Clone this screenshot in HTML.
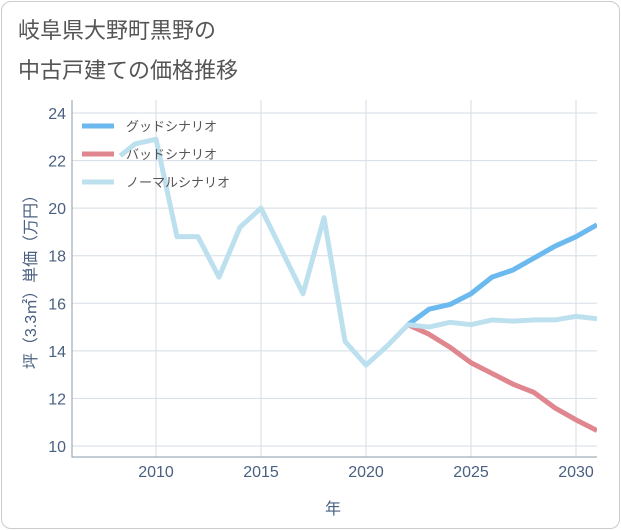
<!DOCTYPE html>
<html><head><meta charset="utf-8">
<style>
body{margin:0;background:#fff;}
#card{position:absolute;left:1px;top:1px;width:617px;height:526px;border:1px solid #ccc;border-radius:10px;background:#fff;}
.t{font-family:"Liberation Sans","Noto Sans CJK JP",sans-serif;}
</style></head>
<body>
<div id="card"></div>
<svg id="chart" width="621" height="530" style="position:absolute;left:0;top:0">
<text class="t" x="18" y="38" font-size="22" fill="#555">岐阜県大野町黒野の</text>
<text class="t" x="18" y="78" font-size="22" fill="#555">中古戸建ての価格推移</text>
<g id="grid"></g><g id="series"></g><g id="legend"></g>
<text class="t" x="333" y="514" font-size="16" fill="#4a6080" text-anchor="middle">年</text>
<text class="t" transform="translate(36,278) rotate(-90)" font-size="16" fill="#4a6080" text-anchor="middle">坪（3.3㎡）単価（万円）</text>
</svg>
<script>
const xTicks=[2010,2015,2020,2025,2030];
const yTicks=[10,12,14,16,18,20,22,24];
const normalYears=[2008.3,2009,2010,2011,2012,2013,2014,2015,2016,2017,2018,2019,2020,2021,2022,2023,2024,2025,2026,2027,2028,2029,2030,2031];
const normalVals=[22.2,22.7,22.9,18.8,18.8,17.1,19.2,20.0,18.2,16.4,19.6,14.4,13.4,14.2,15.1,15.0,15.2,15.1,15.3,15.25,15.3,15.3,15.45,15.35];
const futureYears=[2022,2023,2024,2025,2026,2027,2028,2029,2030,2031];
const goodVals=[15.1,15.75,15.95,16.4,17.1,17.4,17.9,18.4,18.8,19.3];
const badVals=[15.1,14.7,14.15,13.5,13.05,12.6,12.25,11.6,11.1,10.65];
const X0=72,X1=597,Y0=100,Y1=457;
const xs=y=>X0+(y-2006)*(X1-X0)/25;
const ys=v=>446-(v-10)*(333/14);
const NS="http://www.w3.org/2000/svg";
function mk(tag,attrs,parent){const e=document.createElementNS(NS,tag);for(const k in attrs)e.setAttribute(k,attrs[k]);parent.appendChild(e);return e;}
const grid=document.getElementById('grid');
const clip=mk('clipPath',{id:'pc'},grid);mk('rect',{x:X0,y:Y0,width:X1-X0,height:Y1-Y0},clip);
xTicks.forEach(t=>{const l=mk('line',{x1:xs(t),x2:xs(t),y1:Y0,y2:Y1,stroke:'#d5dde5','stroke-width':1},grid);

const tx=mk('text',{x:xs(t),y:477,'font-size':16,fill:'#4a6080','text-anchor':'middle',class:'t'},grid);tx.textContent=t;
});
yTicks.forEach(t=>{const l=mk('line',{x1:X0,x2:X1,y1:ys(t),y2:ys(t),stroke:'#d5dde5','stroke-width':1},grid);

const tx=mk('text',{x:66,y:ys(t)+6,'font-size':16,fill:'#4a6080','text-anchor':'end',class:'t'},grid);tx.textContent=t;
});
const ax=mk('path',{d:`M${X0} ${Y0}V${Y1}H${X1}`,fill:'none',stroke:'#8a9aaa','stroke-width':1},grid);

const ser=document.getElementById('series');
function line(yrs,vals,color,name){const d=yrs.map((y,i)=>(i?'L':'M')+xs(y)+' '+ys(vals[i])).join('');
const p=mk('path',{d,fill:'none',stroke:color,'stroke-width':5,'stroke-linejoin':'round','clip-path':'url(#pc)'},ser);
}
line(futureYears,badVals,'#e0868e','bad-scenario-line');
line(futureYears,goodVals,'#6bb9ef','good-scenario-line');
line(normalYears,normalVals,'#bde0ef','normal-scenario-line');
const leg=document.getElementById('legend');
[['グッドシナリオ','#6bb9ef',126],['バッドシナリオ','#e0868e',154],['ノーマルシナリオ','#bde0ef',182]].forEach(([n,c,y])=>{
const g=mk('g',{},leg);
mk('line',{x1:82,x2:114,y1:y,y2:y,stroke:c,'stroke-width':5},g);
const t=mk('text',{x:126,y:y+5,'font-size':13,fill:'#555',class:'t'},g);t.textContent=n;});
</script>
</body></html>
